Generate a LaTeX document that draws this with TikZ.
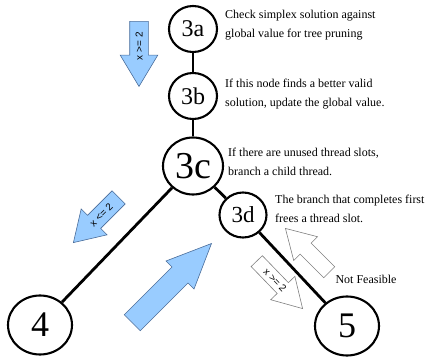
\documentclass[tikz,border=0pt]{standalone}
\usepackage{fontspec}
\setmainfont{Liberation Serif}
\setsansfont{Liberation Sans}
\usetikzlibrary{shapes.geometric,shapes.arrows}
\definecolor{cutblue}{HTML}{99CCFF}
\definecolor{cutedge}{HTML}{4A6D9A}

\begin{document}
\begin{tikzpicture}[
    x=1pt, y=1pt,
    tnode/.style={ellipse, draw, line width=2.1pt, inner sep=0pt, minimum width=48pt, minimum height=46pt, font=\fontsize{24}{24}\selectfont},
    bignode/.style={minimum width=64pt, minimum height=59pt, font=\fontsize{36}{36}\selectfont},
    edge/.style={line width=2.8pt},
    note/.style={anchor=west, align=left, inner sep=0pt, font=\fontsize{12}{19}\selectfont},
    cut/.style={single arrow, draw=cutedge, fill=cutblue, line width=0.6pt, inner xsep=2pt, inner ysep=5.5pt, text height=7pt, text depth=0pt, font=\sffamily\fontsize{10}{10}\selectfont, anchor=tip},
    ghost/.style={cut, draw=gray, fill=white, inner ysep=4pt}
]
\useasboundingbox (0,0) rectangle (432,357);

% search tree
\node[tnode] (n3a) at (193,328) {3a};
\node[tnode] (n3b) at (193,261) {3b};
\node[tnode, minimum width=60pt, minimum height=57pt, font=\fontsize{38}{38}\selectfont] (n3c) at (193,191) {3c};
\node[tnode, minimum width=47pt, minimum height=45pt, font=\fontsize{23}{23}\selectfont] (n3d) at (243,142) {3d};
\node[tnode, bignode] (n4) at (40,32) {4};
\node[tnode, bignode] (n5) at (347,31) {5};

\draw[edge] (n3a) -- (n3b);
\draw[edge] (n3b) -- (n3c);
\draw[edge] (n3c) -- (n4);
\draw[edge] (n3c) -- (n3d);
\draw[edge] (n3d) -- (n5);

% notes
\node[note] (t3a) at (225,331.5) {Check simplex solution against\\global value for tree pruning};
\node[note] (t3b) at (225,263) {If this node finds a better valid\\solution, update the global value.};
\node[note] (t3c) at (228,195) {If there are unused thread slots,\\branch a child thread.};
\node[note] (t3d) at (275,148) {The branch that completes first\\frees a thread slot.};
\node[font=\fontsize{12}{12}\selectfont, inner sep=0pt] (infeas) at (366,78) {Not Feasible};

% branching arrows
\node[cut, rotate=90, shape border rotate=180, minimum height=65pt, minimum width=37pt, single arrow head extend=9.5pt, single arrow tip angle=62] (cutup) at (139,270) {x >= 2};
\node[cut, rotate=45, shape border rotate=180, minimum height=64pt, minimum width=36pt, single arrow head extend=9pt, single arrow tip angle=64] (cutleft) at (73,114) {x <= 2};
\node[cut, rotate=45, inner ysep=7.5pt, minimum height=112pt, minimum width=39pt, single arrow head extend=8.5pt, single arrow tip angle=48] (branch) at (212,114) {};
\node[ghost, rotate=-46, minimum height=66pt, minimum width=33pt, single arrow head extend=9pt, single arrow tip angle=61] (cutright) at (303,48) {x >= 2};
\node[ghost, rotate=135, minimum height=62pt, minimum width=33pt, single arrow head extend=9pt, single arrow tip angle=61] (backtrack) at (285,129) {};
\end{tikzpicture}
\end{document}
